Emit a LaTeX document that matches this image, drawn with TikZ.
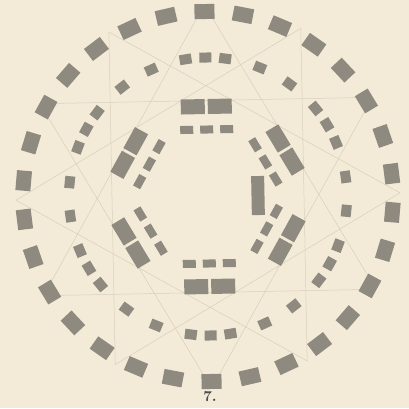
\documentclass[tikz,border=0pt]{standalone}
\usepackage{tikz}
\definecolor{paper}{RGB}{243,235,216}
\definecolor{blockgray}{RGB}{142,138,128}
\definecolor{guidegray}{RGB}{216,207,187}

\begin{document}
\begin{tikzpicture}[
  x=1pt, y=1pt,
  blk/.style={fill=blockgray, draw=none, inner sep=0pt},
  outerblk/.style={blk, minimum width=20pt, minimum height=15pt},
  midblk/.style={blk, minimum width=12pt, minimum height=10pt},
  longblk/.style={blk, minimum width=24pt, minimum height=15pt},
  smallblk/.style={blk, minimum width=13pt, minimum height=8pt},
  guide/.style={draw=guidegray, line width=.5pt}
]
\fill[paper] (-208,-211.5) rectangle (201,196.5);
\useasboundingbox (-208,-211.5) rectangle (201,196.5);
\begin{scope}[rotate=1.1, transform shape]
% points of the four triangles
\foreach \k in {0,...,11} \coordinate (s\k) at (30*\k:192);
\draw[guide] (s3) -- (s7) -- (s11) -- cycle;
\draw[guide] (s9) -- (s1) -- (s5) -- cycle;
\draw[guide] (s0) -- (s4) -- (s8) -- cycle;
\draw[guide] (s6) -- (s10) -- (s2) -- cycle;
% outer ring
\foreach \i in {0,...,29}
  \node[outerblk, rotate=12*\i] (o\i) at (90+12*\i:185) {};
% middle ring: triples and pairs
\foreach \j in {0,...,5} {
  \foreach \d [count=\n] in {-8.2,0,8.2}
    \node[midblk, rotate=60*\j-60+\d] (mt\j\n) at (60*\j+30+\d:139) {};
  \foreach \d [count=\n] in {-7,7}
    \node[midblk, rotate=60*\j-90+\d] (mp\j\n) at (60*\j+\d:139) {};
}
% inner hexagon of lines
\foreach \j in {0,...,5} {
  \begin{scope}[rotate=60*\j-60]
    \node[longblk] (hla\j) at (-13.5,90) {};
    \node[longblk] (hlb\j) at (13.5,90) {};
    \node[smallblk] (hsa\j) at (-20,67) {};
    \node[smallblk] (hsb\j) at (0,67) {};
    \node[smallblk] (hsc\j) at (20,67) {};
  \end{scope}
}
\node[blk, minimum width=13pt, minimum height=39pt] (bar) at (0:50) {};
\end{scope}
\node[font=\bfseries, scale=1.5, text=black!70, inner sep=0pt] (num) at (2,-200) {7.};
\end{tikzpicture}
\end{document}
